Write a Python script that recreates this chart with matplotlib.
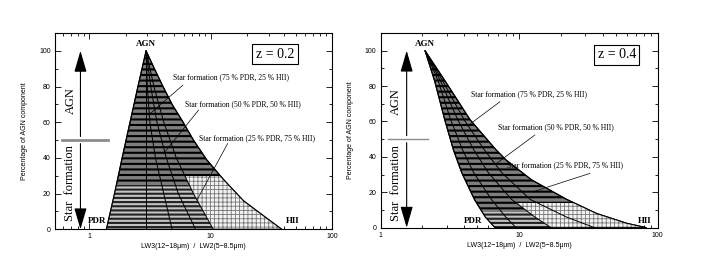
import numpy as np
import matplotlib
matplotlib.use('Agg')
import matplotlib.pyplot as plt
from matplotlib.patches import Polygon
from matplotlib.ticker import MultipleLocator, NullFormatter

plt.rcParams['font.family'] = 'Liberation Sans'
plt.rcParams['hatch.linewidth'] = 1.5

# ---- z = 0.2 panel
z02_y = [100, 80, 60, 40, 20, 0]
z02_pdr = [2.93, 2.51, 2.16, 1.86, 1.61, 1.38]
z02_hii_y = [100, 90, 80, 70, 61, 50, 39, 28, 16, 9, 0]
z02_hii = [2.93, 3.43, 4.04, 4.8, 5.8, 7.2, 9.25, 12.7, 18.6, 25.5, 38.5]
z02_mix75 = [2.93, 3.0, 3.15, 3.5, 4.1, 4.8]
z02_mix50 = [2.93, 3.2, 3.6, 4.3, 5.4, 7.5]
z02_mix25 = [2.93, 3.4, 4.1, 5.2, 7.2, 10.5]

# ---- z = 0.4 panel
z04_y = [100, 83, 61, 44, 31, 16, 6, 0]
z04_pdr = [2.09, 2.45, 2.9, 3.35, 3.85, 4.75, 5.7, 6.7]
z04_hii_y = [100, 83, 61, 44, 38, 27, 16, 8, 2.5, 0]
z04_hii = [2.09, 2.91, 4.42, 6.8, 8.1, 12.3, 22, 36.3, 59.7, 83]
z04_mix75 = [2.09, 2.6, 3.2, 3.9, 4.7, 6.3, 8.0, 9.5]
z04_mix50 = [2.09, 2.7, 3.6, 4.7, 6.0, 8.8, 13, 17]
z04_mix25 = [2.09, 2.8, 4.0, 5.6, 7.5, 12, 22, 35]

sf_labels = ['Star formation (75 % PDR, 25 % HII)',
             'Star formation (50 % PDR, 50 % HII)',
             'Star formation (25 % PDR, 75 % HII)']
x_ticks = [1, 10, 100]
x_ticklabels = ['1', '10', '100']
y_ticks = [0, 20, 40, 60, 80, 100]

serif = 'Liberation Serif'


def draw_panel(ax, xlim, ys, pdr, hii_y, hii, mixes, vline, light_top, light_edge):
    ax.set_xscale('log')
    ax.set_xlim(xlim)
    ax.set_ylim(0, 110)

    xy = list(zip(pdr, ys)) + list(zip(hii[::-1], hii_y[::-1]))
    tri = Polygon(xy, closed=True, facecolor='#7d7d7d', edgecolor='k',
                  hatch='---', lw=0.8, zorder=2)
    ax.add_patch(tri)

    # lighter dashed rows near the bottom
    band = ax.axhspan(0, light_top, facecolor='#c4c4c4', edgecolor='#222',
                      hatch='----', lw=0, zorder=2.1)
    band.set_clip_path(tri)

    # white grid region on the HII side
    reg = Polygon(list(zip(light_edge, ys)) + list(zip(hii[::-1], hii_y[::-1])),
                  closed=True, transform=ax.transData)
    with plt.rc_context({'hatch.linewidth': 0.6}):
        grid = ax.axhspan(0, light_top + 5, facecolor='#f2f2f2', edgecolor='#777',
                          hatch='++++', lw=0, zorder=2.2)
        if hasattr(grid, 'set_hatch_linewidth'):
            grid.set_hatch_linewidth(0.6)
    grid.set_clip_path(reg)

    # outline again on top
    ax.add_patch(Polygon(xy, closed=True, fill=False, edgecolor='k', lw=0.8, zorder=3))

    for m in mixes:
        ax.plot(m, ys, color='k', lw=0.7, zorder=3)
    if vline:
        ax.plot([pdr[0], pdr[0]], [ys[0], ys[-1]], color='k', lw=0.7, zorder=3)

    ax.set_xticks(x_ticks, x_ticklabels)
    ax.xaxis.set_minor_formatter(NullFormatter())
    ax.set_yticks(y_ticks)
    ax.yaxis.set_minor_locator(MultipleLocator(10))
    ax.tick_params(which='both', direction='in', top=True, right=True,
                   labelsize=5, width=0.6, pad=3)
    ax.tick_params(which='major', length=4)
    ax.tick_params(which='minor', length=2)
    for s in ax.spines.values():
        s.set_linewidth(0.8)
    ax.set_xlabel('LW3(12\u221218\u03bcm)  /  LW2(5\u22128.5\u03bcm)', fontsize=5, labelpad=2)
    ax.set_ylabel('Percentage of AGN component', fontsize=5, labelpad=8)


def side_arrow(ax, x):
    ap = dict(arrowstyle='-|>,head_length=1.1,head_width=0.32', lw=0.8, color='k',
              mutation_scale=12, shrinkA=0, shrinkB=0)
    ax.annotate('', xy=(x, 100), xytext=(x, 52), arrowprops=ap, zorder=4)
    ax.annotate('', xy=(x, 0), xytext=(x, 48), arrowprops=ap, zorder=4)


fig = plt.figure(figsize=(7.21, 2.68), dpi=100)
ax1 = fig.add_axes([0.0763, 0.1444, 0.3842, 0.7325])
ax2 = fig.add_axes([0.528, 0.1504, 0.3842, 0.7265])

# left panel
draw_panel(ax1, (0.52, 100), z02_y, z02_pdr, z02_hii_y, z02_hii,
           [z02_mix75, z02_mix50, z02_mix25], True, 25, z02_mix25)
side_arrow(ax1, 0.843)
ax1.plot([0.596, 1.415], [50, 50], color='#8c8c8c', lw=2, zorder=4)
ax1.text(0.697, 72, 'AGN', rotation=90, fontsize=9, family=serif, ha='center', va='center')
ax1.text(0.697, 26, 'Star  formation', rotation=90, fontsize=9, family=serif,
         ha='center', va='center')
ax1.text(z02_pdr[0], 103.6, 'AGN', fontsize=6.5, fontweight='bold', family=serif,
         ha='center', va='center')
ax1.text(1.157, 4.6, 'PDR', fontsize=6.5, fontweight='bold', family=serif, ha='center', va='center')
ax1.text(47.7, 4.6, 'HII', fontsize=6.5, fontweight='bold', family=serif, ha='center', va='center')
ax1.text(0.794, 0.892, 'z = 0.2', transform=ax1.transAxes, fontsize=10, family=serif,
         ha='center', va='center',
         bbox=dict(boxstyle='square,pad=0.25', fc='white', ec='k', lw=0.8))
txt1 = [(4.89, 85.3), (6.17, 70.2), (8.04, 51.1)]
tail1 = [(5.9, 80.8), (7.94, 66.8), (13.8, 48.1)]
tip1 = [(3.06, 64), (4.09, 42.5), (7.7, 16.4)]
for lab, t, a, b in zip(sf_labels, txt1, tail1, tip1):
    ax1.text(t[0], t[1], lab, fontsize=5.5, family=serif, ha='left', va='center')
    ax1.annotate('', xy=b, xytext=a,
                 arrowprops=dict(arrowstyle='-', lw=0.5, color='k', shrinkA=0, shrinkB=0))

# right panel
draw_panel(ax2, (1, 100), z04_y, z04_pdr, z04_hii_y, z04_hii,
           [z04_mix75, z04_mix50, z04_mix25], False, 9, z04_mix50)
side_arrow(ax2, 1.54)
ax2.plot([1.135, 2.21], [50, 50], color='#8c8c8c', lw=1, zorder=4)
ax2.text(1.29, 71, 'AGN', rotation=90, fontsize=9, family=serif, ha='center', va='center')
ax2.text(1.29, 25, 'Star  formation', rotation=90, fontsize=9, family=serif,
         ha='center', va='center')
ax2.text(z04_pdr[0], 104, 'AGN', fontsize=6.5, fontweight='bold', family=serif,
         ha='center', va='center')
ax2.text(4.66, 3.8, 'PDR', fontsize=6.5, fontweight='bold', family=serif, ha='center', va='center')
ax2.text(81, 3.8, 'HII', fontsize=6.5, fontweight='bold', family=serif, ha='center', va='center')
ax2.text(0.852, 0.887, 'z = 0.4', transform=ax2.transAxes, fontsize=10, family=serif,
         ha='center', va='center',
         bbox=dict(boxstyle='square,pad=0.25', fc='white', ec='k', lw=0.8))
txt2 = [(4.49, 75.4), (7.03, 56.5), (8.13, 35.4)]
tail2 = [(7.27, 71.2), (13.0, 52.4), (32.5, 30.7)]
tip2 = [(4.22, 57.4), (6.88, 36.4), (12.6, 20.3)]
for lab, t, a, b in zip(sf_labels, txt2, tail2, tip2):
    ax2.text(t[0], t[1], lab, fontsize=5.5, family=serif, ha='left', va='center')
    ax2.annotate('', xy=b, xytext=a,
                 arrowprops=dict(arrowstyle='-', lw=0.5, color='k', shrinkA=0, shrinkB=0))

fig.savefig('out.png', dpi=100)
